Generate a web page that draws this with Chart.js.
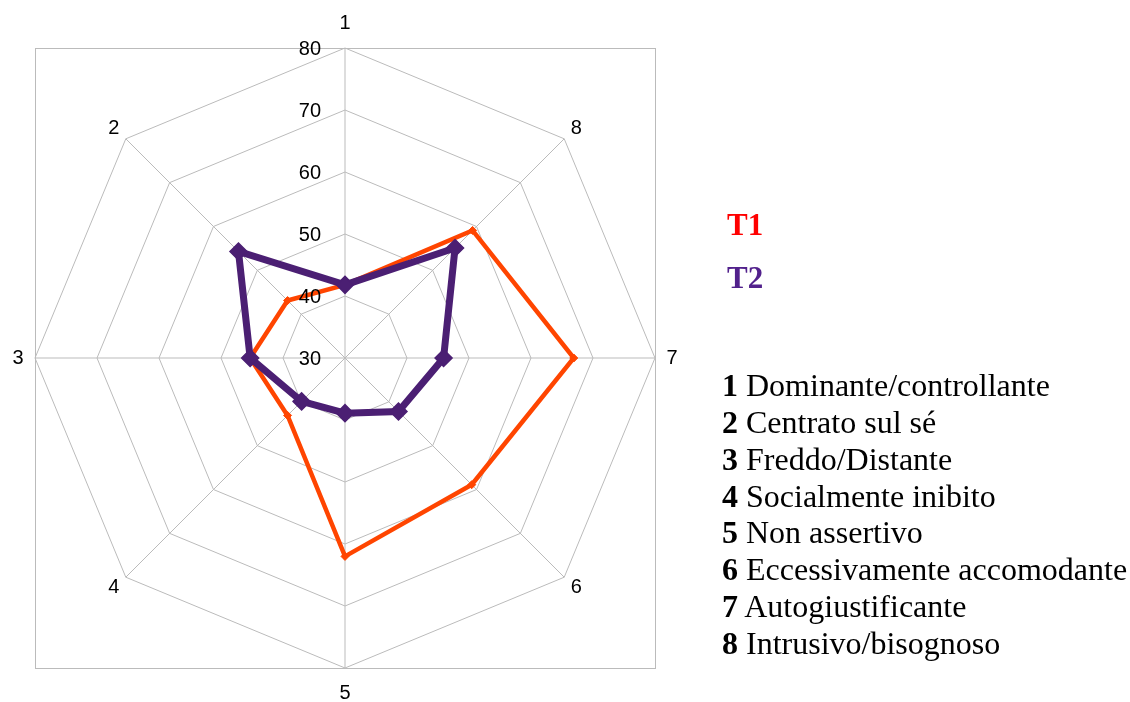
<!DOCTYPE html>
<html lang="it">
<head>
<meta charset="utf-8">
<title>Profilo interpersonale T1 / T2</title>
<script src="https://cdn.jsdelivr.net/npm/chart.js@4.4.1/dist/chart.umd.min.js"></script>
<style>
  html, body { margin: 0; padding: 0; background: #ffffff; }
  body { width: 1130px; height: 702px; position: relative; overflow: hidden; }
  #wrap { position: absolute; left: 0; top: 0; width: 1130px; height: 702px; }
  .series {
    position: absolute; left: 727px;
    font-family: "Liberation Serif", "Times New Roman", serif;
    font-weight: bold; font-size: 31px; line-height: 36px; white-space: nowrap;
  }
  #legend-list {
    position: absolute; left: 722px; top: 367px; margin: 0; padding: 0; list-style: none;
    font-family: "Liberation Serif", "Times New Roman", serif;
    font-size: 32px; line-height: 36.86px; color: #000; white-space: nowrap;
  }
  #legend-list b { font-weight: bold; }
</style>
</head>
<body>
<div id="wrap"><canvas id="radar"></canvas></div>
<div class="series" id="lab-t1" style="top:207px;color:#ff0000;"></div>
<div class="series" id="lab-t2" style="top:260px;color:#52218c;"></div>
<ul id="legend-list"></ul>
<script>
// Scale categories (1..8) and their descriptions
const categories = ['1', '2', '3', '4', '5', '6', '7', '8'];
const descriptions = [
  'Dominante/controllante',
  'Centrato sul sé',
  'Freddo/Distante',
  'Socialmente inibito',
  'Non assertivo',
  'Eccessivamente accomodante',
  'Autogiustificante',
  'Intrusivo/bisognoso'
];

// Scores per category, in category order 1..8
const seriesNames = ['T1', 'T2'];
const t1Values = [41.8, 43.1, 45.3, 43.1, 62.0, 58.9, 66.9, 59.1];
const t2Values = [41.8, 54.3, 45.3, 39.9, 38.9, 42.2, 45.9, 55.1];

// Radial axis ticks
const tickValues = [30, 40, 50, 60, 70, 80];

// Categories run counter-clockwise from the top, Chart.js runs clockwise,
// so the spokes are fed in the order 1, 8, 7, 6, 5, 4, 3, 2.
const spokeOrder = [0, 7, 6, 5, 4, 3, 2, 1];
const spokeLabels = spokeOrder.map(i => categories[i]);
const t1Spokes = spokeOrder.map(i => t1Values[i]);
const t2Spokes = spokeOrder.map(i => t2Values[i]);

// Side legend and description list
document.getElementById('lab-t1').textContent = seriesNames[0];
document.getElementById('lab-t2').textContent = seriesNames[1];
const list = document.getElementById('legend-list');
categories.forEach((c, i) => {
  const li = document.createElement('li');
  const b = document.createElement('b');
  b.textContent = c;
  li.appendChild(b);
  li.appendChild(document.createTextNode(' ' + descriptions[i]));
  list.appendChild(li);
});

const GRID = '#bbbbbb';

// Frame, spoke numbers and value labels drawn from the radial scale geometry
const radarDecor = {
  id: 'radarDecor',
  beforeDatasetsDraw(chart) {
    const s = chart.scales.r;
    const ctx = chart.ctx;
    const r = s.drawingArea;
    ctx.save();
    ctx.strokeStyle = GRID;
    ctx.lineWidth = 1;
    ctx.strokeRect(Math.round(s.xCenter - r) + 0.5, Math.round(s.yCenter - r) + 0.5,
                   Math.round(2 * r), Math.round(2 * r));

    ctx.fillStyle = '#000';
    ctx.font = '20px "Liberation Sans", Arial, sans-serif';
    ctx.textAlign = 'center';
    ctx.textBaseline = 'middle';
    spokeLabels.forEach((lab, idx) => {
      const ang = s.getIndexAngle(idx);
      const vertical = Math.abs(Math.cos(ang)) > 0.99;
      const extra = vertical ? 8 : 17;
      const p = s.getPointPosition(idx, r + (vertical ? 17 + extra : extra));
      const diag = !vertical && Math.abs(Math.sin(ang)) < 0.99;
      const dy = diag ? (Math.cos(ang) > 0 ? 2 : -2) : 0;
      ctx.fillText(lab, p.x, p.y + dy);
    });
    ctx.restore();
  },
  afterDatasetsDraw(chart) {
    const s = chart.scales.r;
    const ctx = chart.ctx;
    ctx.save();
    ctx.fillStyle = '#000';
    ctx.font = '20px "Liberation Sans", Arial, sans-serif';
    ctx.textAlign = 'right';
    ctx.textBaseline = 'middle';
    tickValues.forEach(v => {
      const d = s.getDistanceFromCenterForValue(v);
      ctx.fillText(String(v), s.xCenter - 24, s.yCenter - d + 1);
    });
    ctx.restore();
  }
};

new Chart(document.getElementById('radar'), {
  type: 'radar',
  data: {
    labels: spokeLabels,
    datasets: [
      {
        label: seriesNames[0],
        data: t1Spokes,
        order: 2,
        fill: false,
        borderColor: '#ff4500',
        backgroundColor: '#ff4500',
        borderWidth: 4.5,
        borderJoinStyle: 'miter',
        pointStyle: 'rectRot',
        pointRadius: 4,
        pointBorderWidth: 1,
        pointBackgroundColor: '#ff4500',
        pointBorderColor: '#ff4500'
      },
      {
        label: seriesNames[1],
        data: t2Spokes,
        order: 1,
        fill: false,
        borderColor: '#4b1f73',
        backgroundColor: '#4b1f73',
        borderWidth: 7,
        borderJoinStyle: 'miter',
        pointStyle: 'rectRot',
        pointRadius: 8.5,
        pointBorderWidth: 1.5,
        pointBackgroundColor: '#4b1f73',
        pointBorderColor: '#4b1f73'
      }
    ]
  },
  options: {
    responsive: true,
    maintainAspectRatio: false,
    animation: false,
    layout: { padding: { left: 35, top: 48, right: 475, bottom: 34 } },
    plugins: { legend: { display: false }, tooltip: { enabled: false } },
    elements: { line: { tension: 0 } },
    scales: {
      r: {
        min: 30,
        max: 80,
        startAngle: 0,
        ticks: { stepSize: 10, display: false },
        grid: { color: GRID, lineWidth: 1, circular: false },
        angleLines: { display: true, color: GRID, lineWidth: 1 },
        pointLabels: { display: false }
      }
    }
  },
  plugins: [radarDecor]
});
</script>
</body>
</html>
